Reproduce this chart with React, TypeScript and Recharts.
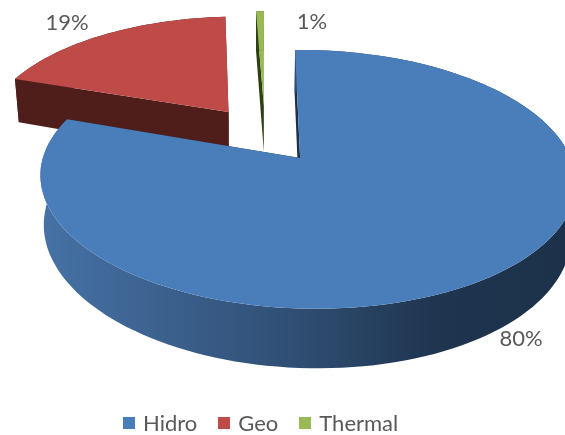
import React from 'react';
import { PieChart, Pie, Legend } from 'recharts';

const seriesNames = ['Hidro', 'Geo', 'Thermal'];
const seriesValues = [80.3, 19.1, 0.6];
const seriesLabels = ['80%', '19%', '1%'];
const seriesColors = ['#4a7ebb', '#be4b48', '#98b954'];
const wallColors = ['#1c3149', '#4f1e1b', '#2f3f14'];
const seriesExplode = [0.23, 0.25, 0.26];

// drawn back to front: the big slice has to end up on top
const pieData = seriesNames
  .map((name, i) => ({
    name,
    value: seriesValues[i],
    fill: seriesColors[i],
    wall: wallColors[i],
    label: seriesLabels[i],
    explode: seriesExplode[i],
  }))
  .reverse();

// where the percent labels sit
const labelSpots: Record<string, { x: number; y: number }> = {
  Hidro: { x: 521, y: 346 },
  Geo: { x: 67, y: 30 },
  Thermal: { x: 312, y: 29 },
};

const PERSPECTIVE = 0.16; // how much the back of the disc shrinks
const PERSPECTIVE_SIDE = -0.025; // camera sits a bit to the left
const X_STRETCH = 2.153;
const DEPTH = 48;
const BOTTOM_SCALE = 0.985;

const Slice3D = (props: any) => {
  const { cx, cy, outerRadius, startAngle, endAngle, payload, name, index } = props;
  const fill = props.fill ?? payload?.fill;
  const wall = props.wall ?? payload?.wall;
  const explode = props.explode ?? payload?.explode ?? 0;
  const key = name ?? payload?.name ?? index;
  const rx = outerRadius * X_STRETCH;
  const ry = outerRadius;

  const toRad = (deg: number) => (deg * Math.PI) / 180;
  const mid = toRad((startAngle + endAngle) / 2);
  const offX = explode * Math.cos(mid);
  const offY = explode * Math.sin(mid);

  const project = (px: number, py: number, bottom: boolean) => {
    const w = 1 + PERSPECTIVE * py + PERSPECTIVE_SIDE * px;
    const sx = (rx * px) / w;
    return [
      cx + (bottom ? sx * BOTTOM_SCALE : sx),
      cy - (ry * py) / w + (bottom ? DEPTH / w : 0),
    ];
  };

  const steps = Math.max(2, Math.ceil(Math.abs(endAngle - startAngle) / 2));
  const rim = (bottom: boolean) => {
    const pts: number[][] = [];
    for (let i = 0; i <= steps; i++) {
      const a = toRad(startAngle + ((endAngle - startAngle) * i) / steps);
      pts.push(project(offX + Math.cos(a), offY + Math.sin(a), bottom));
    }
    return pts;
  };
  const toPath = (pts: number[][]) =>
    'M' + pts.map((p) => `${p[0].toFixed(1)},${p[1].toFixed(1)}`).join('L') + 'Z';

  const topRim = rim(false);
  const lowRim = rim(true);
  const apexTop = project(offX, offY, false);
  const apexLow = project(offX, offY, true);
  const gradId = `wall-${key}`;

  return (
    <g>
      <defs>
        <linearGradient id={gradId} gradientUnits="userSpaceOnUse" x1="40" y1="0" x2="565" y2="0">
          {key === 'Hidro' ? (
            <>
              <stop offset="0" stopColor="#4672a6" />
              <stop offset="0.5" stopColor="#2f4d72" />
              <stop offset="0.75" stopColor="#1f3550" />
              <stop offset="1" stopColor="#1c3149" />
            </>
          ) : (
            <stop offset="0" stopColor={wall} />
          )}
        </linearGradient>
      </defs>
      <path d={toPath([apexTop, topRim[0], lowRim[0], apexLow])} fill={wall} />
      <path d={toPath([apexTop, topRim[steps], lowRim[steps], apexLow])} fill={wall} />
      <path d={toPath([...topRim, ...[...lowRim].reverse()])} fill={`url(#${gradId})`} />
      <path d={toPath([apexTop, ...topRim])} fill={fill} />
    </g>
  );
};

const renderLabel = (props: any) => {
  const name = props.name ?? props.payload?.name;
  const spot = labelSpots[name];
  if (!spot) return null;
  return (
    <text x={spot.x} y={spot.y} textAnchor="middle" fontFamily="Lato" fontSize={22} fill="#595959">
      {props.label ?? props.payload?.label}
    </text>
  );
};

const renderLegend = () => (
  <div style={{ display: 'flex', justifyContent: 'flex-start', gap: 21, paddingLeft: 123, fontFamily: 'Lato', fontSize: 22, color: '#595959', lineHeight: '26px' }}>
    {seriesNames.map((name, i) => (
      <span key={name} style={{ display: 'flex', alignItems: 'center', gap: 8 }}>
        <span style={{ width: 12, height: 12, background: seriesColors[i], display: 'inline-block' }} />
        {name}
      </span>
    ))}
  </div>
);

export default function App() {
  return (
    <div style={{ position: 'absolute', left: 0, top: 0, width: 565, height: 435, overflow: 'hidden', filter: 'blur(0.5px)' }}>
      <PieChart width={565} height={435} margin={{ top: 0, right: 0, bottom: 0, left: 0 }}>
        <Pie
          data={pieData}
          dataKey="value"
          nameKey="name"
          cx={265}
          cy={135}
          outerRadius={118}
          startAngle={90}
          endAngle={450}
          stroke="none"
          shape={Slice3D}
          label={renderLabel}
          labelLine={false}
          isAnimationActive={false}
        />
        <Legend
          content={renderLegend}
          layout="horizontal"
          verticalAlign="bottom"
          align="left"
          wrapperStyle={{ left: 0, top: 410, bottom: 'auto', width: 565 }}
        />
      </PieChart>
    </div>
  );
}
